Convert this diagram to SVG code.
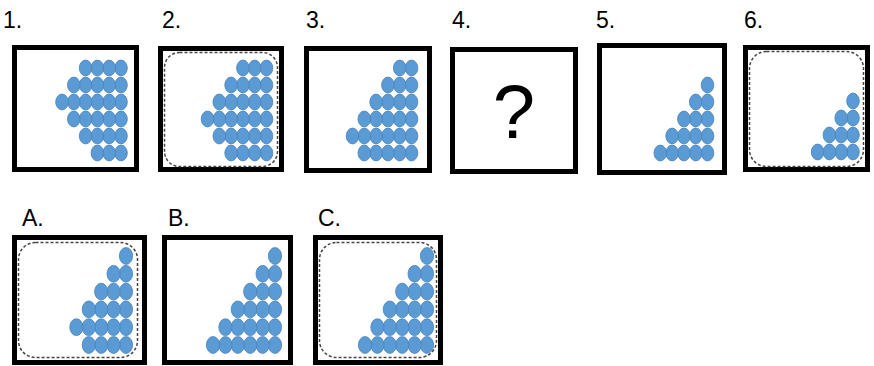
<svg xmlns="http://www.w3.org/2000/svg" xmlns:xlink="http://www.w3.org/1999/xlink" width="874" height="366" viewBox="0 0 874 366">
<style>
.box{fill:#fff;stroke:#000;stroke-width:5}
.dash{fill:none;stroke:#444;stroke-width:1.5;stroke-dasharray:3 2}
.dot{fill:#5B9BD5;stroke:#4A80B8;stroke-width:0.8}
.lbl{font-family:"Liberation Sans",Arial,sans-serif;font-size:23px;fill:#000}
.q{font-family:"Liberation Sans",Arial,sans-serif;font-size:76px;fill:#000;text-anchor:middle}
</style>
<defs>
<ellipse id="d" class="dot" cx="0" cy="0" rx="6.3" ry="7.9"/>
<ellipse id="e" class="dot" cx="0" cy="0" rx="6.6" ry="8.4"/>
</defs>
<rect width="874" height="366" fill="#fff"/>

<g id="panel1">
<text class="lbl" x="3" y="28">1.</text>
<rect class="box" x="14.5" y="47.5" width="122" height="122"/>
<g transform="translate(121,0)">
<use href="#d" x="0" y="68"/><use href="#d" x="-11.8" y="68"/><use href="#d" x="-23.6" y="68"/><use href="#d" x="-35.4" y="68"/>
<use href="#d" x="0" y="85"/><use href="#d" x="-11.8" y="85"/><use href="#d" x="-23.6" y="85"/><use href="#d" x="-35.4" y="85"/><use href="#d" x="-47.2" y="85"/>
<use href="#d" x="0" y="102"/><use href="#d" x="-11.8" y="102"/><use href="#d" x="-23.6" y="102"/><use href="#d" x="-35.4" y="102"/><use href="#d" x="-47.2" y="102"/><use href="#d" x="-59" y="102"/>
<use href="#d" x="0" y="119"/><use href="#d" x="-11.8" y="119"/><use href="#d" x="-23.6" y="119"/><use href="#d" x="-35.4" y="119"/><use href="#d" x="-47.2" y="119"/>
<use href="#d" x="0" y="136"/><use href="#d" x="-11.8" y="136"/><use href="#d" x="-23.6" y="136"/><use href="#d" x="-35.4" y="136"/>
<use href="#d" x="0" y="153"/><use href="#d" x="-11.8" y="153"/><use href="#d" x="-23.6" y="153"/>
</g>
</g>

<g id="panel2">
<text class="lbl" x="162" y="28">2.</text>
<rect class="box" x="160.5" y="48.5" width="121" height="121"/>
<rect class="dash" x="164.5" y="52.5" width="113" height="114" rx="15"/>
<g transform="translate(266.5,0)">
<use href="#d" x="0" y="68"/><use href="#d" x="-11.8" y="68"/><use href="#d" x="-23.6" y="68"/>
<use href="#d" x="0" y="85"/><use href="#d" x="-11.8" y="85"/><use href="#d" x="-23.6" y="85"/><use href="#d" x="-35.4" y="85"/>
<use href="#d" x="0" y="102"/><use href="#d" x="-11.8" y="102"/><use href="#d" x="-23.6" y="102"/><use href="#d" x="-35.4" y="102"/><use href="#d" x="-47.2" y="102"/>
<use href="#d" x="0" y="119"/><use href="#d" x="-11.8" y="119"/><use href="#d" x="-23.6" y="119"/><use href="#d" x="-35.4" y="119"/><use href="#d" x="-47.2" y="119"/><use href="#d" x="-59" y="119"/>
<use href="#d" x="0" y="136"/><use href="#d" x="-11.8" y="136"/><use href="#d" x="-23.6" y="136"/><use href="#d" x="-35.4" y="136"/><use href="#d" x="-47.2" y="136"/>
<use href="#d" x="0" y="153"/><use href="#d" x="-11.8" y="153"/><use href="#d" x="-23.6" y="153"/><use href="#d" x="-35.4" y="153"/>
</g>
</g>

<g id="panel3">
<text class="lbl" x="306" y="28">3.</text>
<rect class="box" x="306.5" y="48.5" width="123" height="122"/>
<g transform="translate(411.5,0)">
<use href="#d" x="0" y="68"/><use href="#d" x="-11.8" y="68"/>
<use href="#d" x="0" y="85"/><use href="#d" x="-11.8" y="85"/><use href="#d" x="-23.6" y="85"/>
<use href="#d" x="0" y="102"/><use href="#d" x="-11.8" y="102"/><use href="#d" x="-23.6" y="102"/><use href="#d" x="-35.4" y="102"/>
<use href="#d" x="0" y="119"/><use href="#d" x="-11.8" y="119"/><use href="#d" x="-23.6" y="119"/><use href="#d" x="-35.4" y="119"/><use href="#d" x="-47.2" y="119"/>
<use href="#d" x="0" y="136"/><use href="#d" x="-11.8" y="136"/><use href="#d" x="-23.6" y="136"/><use href="#d" x="-35.4" y="136"/><use href="#d" x="-47.2" y="136"/><use href="#d" x="-59" y="136"/>
<use href="#d" x="0" y="153"/><use href="#d" x="-11.8" y="153"/><use href="#d" x="-23.6" y="153"/><use href="#d" x="-35.4" y="153"/><use href="#d" x="-47.2" y="153"/>
</g>
</g>

<g id="panel4">
<text class="lbl" x="452" y="28">4.</text>
<rect class="box" x="452.5" y="49.5" width="123" height="122"/>
<text class="q" x="514" y="138">?</text>
</g>

<g id="panel5">
<text class="lbl" x="596" y="28">5.</text>
<rect class="box" x="599.5" y="45.5" width="125" height="127"/>
<g transform="translate(707.5,0)">
<use href="#d" x="0" y="85"/>
<use href="#d" x="0" y="102"/><use href="#d" x="-11.8" y="102"/>
<use href="#d" x="0" y="119"/><use href="#d" x="-11.8" y="119"/><use href="#d" x="-23.6" y="119"/>
<use href="#d" x="0" y="136"/><use href="#d" x="-11.8" y="136"/><use href="#d" x="-23.6" y="136"/><use href="#d" x="-35.4" y="136"/>
<use href="#d" x="0" y="153"/><use href="#d" x="-11.8" y="153"/><use href="#d" x="-23.6" y="153"/><use href="#d" x="-35.4" y="153"/><use href="#d" x="-47.2" y="153"/>
</g>
</g>

<g id="panel6">
<text class="lbl" x="744" y="28">6.</text>
<rect class="box" x="745.5" y="47.5" width="122" height="122"/>
<rect class="dash" x="749.5" y="51.5" width="114" height="115" rx="17"/>
<g transform="translate(853,0)">
<use href="#d" x="0" y="101"/>
<use href="#d" x="0" y="118"/><use href="#d" x="-11.8" y="118"/>
<use href="#d" x="0" y="135"/><use href="#d" x="-11.8" y="135"/><use href="#d" x="-23.6" y="135"/>
<use href="#d" x="0" y="152"/><use href="#d" x="-11.8" y="152"/><use href="#d" x="-23.6" y="152"/><use href="#d" x="-35.4" y="152"/>
</g>
</g>

<g id="panelA">
<text class="lbl" x="22" y="226">A.</text>
<rect class="box" x="14.5" y="237.5" width="130" height="125"/>
<rect class="dash" x="18.5" y="242.5" width="119" height="115" rx="17"/>
<g transform="translate(126,0)">
<use href="#e" x="0" y="256"/>
<use href="#e" x="0" y="273.8"/><use href="#e" x="-12.4" y="273.8"/>
<use href="#e" x="0" y="291.6"/><use href="#e" x="-12.4" y="291.6"/><use href="#e" x="-24.8" y="291.6"/>
<use href="#e" x="0" y="309.4"/><use href="#e" x="-12.4" y="309.4"/><use href="#e" x="-24.8" y="309.4"/><use href="#e" x="-37.2" y="309.4"/>
<use href="#e" x="0" y="327.2"/><use href="#e" x="-12.4" y="327.2"/><use href="#e" x="-24.8" y="327.2"/><use href="#e" x="-37.2" y="327.2"/><use href="#e" x="-49.6" y="327.2"/>
<use href="#e" x="0" y="345"/><use href="#e" x="-12.4" y="345"/><use href="#e" x="-24.8" y="345"/><use href="#e" x="-37.2" y="345"/>
</g>
</g>

<g id="panelB">
<text class="lbl" x="168" y="226">B.</text>
<rect class="box" x="164.5" y="237.5" width="126" height="125"/>
<g transform="translate(275,0)">
<use href="#e" x="0" y="256"/>
<use href="#e" x="0" y="273.8"/><use href="#e" x="-12.4" y="273.8"/>
<use href="#e" x="0" y="291.6"/><use href="#e" x="-12.4" y="291.6"/><use href="#e" x="-24.8" y="291.6"/>
<use href="#e" x="0" y="309.4"/><use href="#e" x="-12.4" y="309.4"/><use href="#e" x="-24.8" y="309.4"/><use href="#e" x="-37.2" y="309.4"/>
<use href="#e" x="0" y="327.2"/><use href="#e" x="-12.4" y="327.2"/><use href="#e" x="-24.8" y="327.2"/><use href="#e" x="-37.2" y="327.2"/><use href="#e" x="-49.6" y="327.2"/>
<use href="#e" x="0" y="345"/><use href="#e" x="-12.4" y="345"/><use href="#e" x="-24.8" y="345"/><use href="#e" x="-37.2" y="345"/><use href="#e" x="-49.6" y="345"/><use href="#e" x="-62" y="345"/>
</g>
</g>

<g id="panelC">
<text class="lbl" x="318" y="226">C.</text>
<rect class="box" x="315.5" y="237.5" width="125" height="125"/>
<rect class="dash" x="319.5" y="242.5" width="117" height="115" rx="17"/>
<g transform="translate(427,0)">
<use href="#e" x="0" y="256"/>
<use href="#e" x="0" y="273.8"/><use href="#e" x="-12.4" y="273.8"/>
<use href="#e" x="0" y="291.6"/><use href="#e" x="-12.4" y="291.6"/><use href="#e" x="-24.8" y="291.6"/>
<use href="#e" x="0" y="309.4"/><use href="#e" x="-12.4" y="309.4"/><use href="#e" x="-24.8" y="309.4"/><use href="#e" x="-37.2" y="309.4"/>
<use href="#e" x="0" y="327.2"/><use href="#e" x="-12.4" y="327.2"/><use href="#e" x="-24.8" y="327.2"/><use href="#e" x="-37.2" y="327.2"/><use href="#e" x="-49.6" y="327.2"/>
<use href="#e" x="0" y="345"/><use href="#e" x="-12.4" y="345"/><use href="#e" x="-24.8" y="345"/><use href="#e" x="-37.2" y="345"/><use href="#e" x="-49.6" y="345"/><use href="#e" x="-62" y="345"/>
</g>
</g>

<g id="connectors"/>
</svg>
